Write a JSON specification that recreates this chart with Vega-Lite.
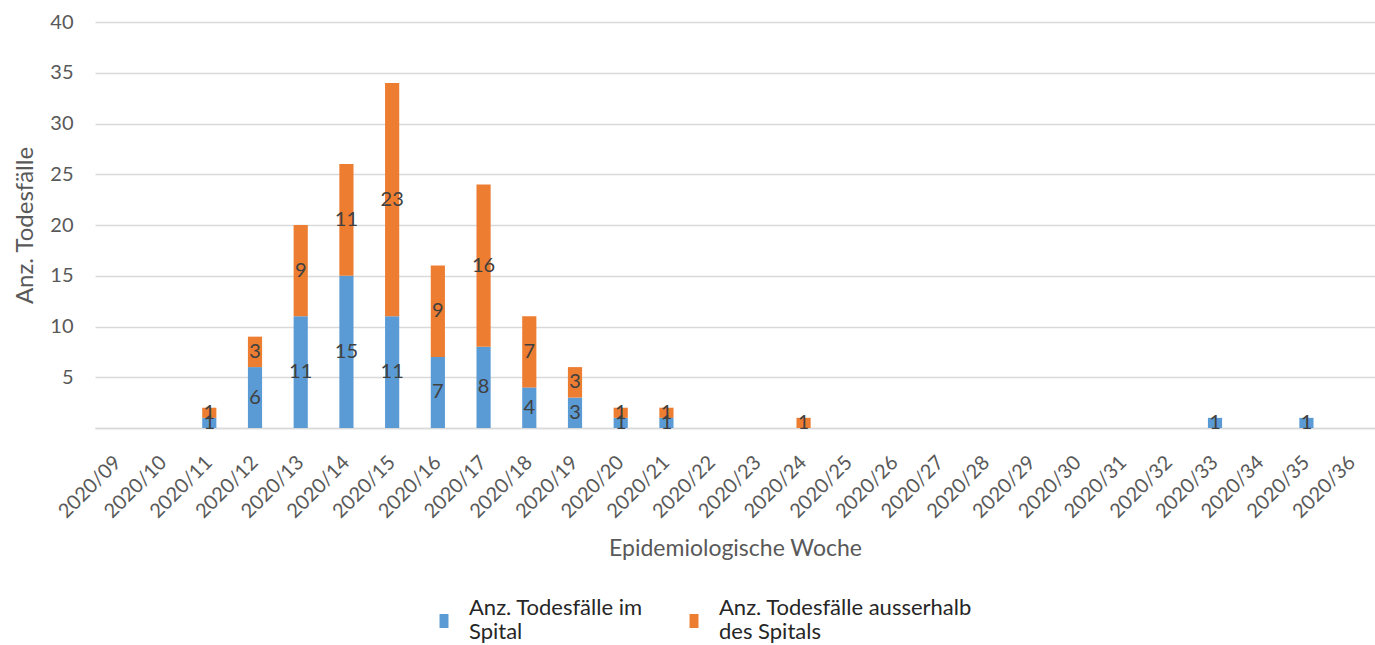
{
  "$schema": "https://vega.github.io/schema/vega-lite/v6.json",
  "width": 1280,
  "height": 406,
  "autosize": "none",
  "padding": {"left": 95, "top": 22, "right": 0, "bottom": 217},
  "background": "white",
  "config": {
    "font": "Lato",
    "view": {"stroke": null}
  },
  "data": {
    "values": [
      {"woche": "2020/09", "serie": "Anz. Todesfälle im Spital", "rang": 1, "anzahl": 0},
      {"woche": "2020/09", "serie": "Anz. Todesfälle ausserhalb des Spitals", "rang": 2, "anzahl": 0},
      {"woche": "2020/10", "serie": "Anz. Todesfälle im Spital", "rang": 1, "anzahl": 0},
      {"woche": "2020/10", "serie": "Anz. Todesfälle ausserhalb des Spitals", "rang": 2, "anzahl": 0},
      {"woche": "2020/11", "serie": "Anz. Todesfälle im Spital", "rang": 1, "anzahl": 1},
      {"woche": "2020/11", "serie": "Anz. Todesfälle ausserhalb des Spitals", "rang": 2, "anzahl": 1},
      {"woche": "2020/12", "serie": "Anz. Todesfälle im Spital", "rang": 1, "anzahl": 6},
      {"woche": "2020/12", "serie": "Anz. Todesfälle ausserhalb des Spitals", "rang": 2, "anzahl": 3},
      {"woche": "2020/13", "serie": "Anz. Todesfälle im Spital", "rang": 1, "anzahl": 11},
      {"woche": "2020/13", "serie": "Anz. Todesfälle ausserhalb des Spitals", "rang": 2, "anzahl": 9},
      {"woche": "2020/14", "serie": "Anz. Todesfälle im Spital", "rang": 1, "anzahl": 15},
      {"woche": "2020/14", "serie": "Anz. Todesfälle ausserhalb des Spitals", "rang": 2, "anzahl": 11},
      {"woche": "2020/15", "serie": "Anz. Todesfälle im Spital", "rang": 1, "anzahl": 11},
      {"woche": "2020/15", "serie": "Anz. Todesfälle ausserhalb des Spitals", "rang": 2, "anzahl": 23},
      {"woche": "2020/16", "serie": "Anz. Todesfälle im Spital", "rang": 1, "anzahl": 7},
      {"woche": "2020/16", "serie": "Anz. Todesfälle ausserhalb des Spitals", "rang": 2, "anzahl": 9},
      {"woche": "2020/17", "serie": "Anz. Todesfälle im Spital", "rang": 1, "anzahl": 8},
      {"woche": "2020/17", "serie": "Anz. Todesfälle ausserhalb des Spitals", "rang": 2, "anzahl": 16},
      {"woche": "2020/18", "serie": "Anz. Todesfälle im Spital", "rang": 1, "anzahl": 4},
      {"woche": "2020/18", "serie": "Anz. Todesfälle ausserhalb des Spitals", "rang": 2, "anzahl": 7},
      {"woche": "2020/19", "serie": "Anz. Todesfälle im Spital", "rang": 1, "anzahl": 3},
      {"woche": "2020/19", "serie": "Anz. Todesfälle ausserhalb des Spitals", "rang": 2, "anzahl": 3},
      {"woche": "2020/20", "serie": "Anz. Todesfälle im Spital", "rang": 1, "anzahl": 1},
      {"woche": "2020/20", "serie": "Anz. Todesfälle ausserhalb des Spitals", "rang": 2, "anzahl": 1},
      {"woche": "2020/21", "serie": "Anz. Todesfälle im Spital", "rang": 1, "anzahl": 1},
      {"woche": "2020/21", "serie": "Anz. Todesfälle ausserhalb des Spitals", "rang": 2, "anzahl": 1},
      {"woche": "2020/22", "serie": "Anz. Todesfälle im Spital", "rang": 1, "anzahl": 0},
      {"woche": "2020/22", "serie": "Anz. Todesfälle ausserhalb des Spitals", "rang": 2, "anzahl": 0},
      {"woche": "2020/23", "serie": "Anz. Todesfälle im Spital", "rang": 1, "anzahl": 0},
      {"woche": "2020/23", "serie": "Anz. Todesfälle ausserhalb des Spitals", "rang": 2, "anzahl": 0},
      {"woche": "2020/24", "serie": "Anz. Todesfälle im Spital", "rang": 1, "anzahl": 0},
      {"woche": "2020/24", "serie": "Anz. Todesfälle ausserhalb des Spitals", "rang": 2, "anzahl": 1},
      {"woche": "2020/25", "serie": "Anz. Todesfälle im Spital", "rang": 1, "anzahl": 0},
      {"woche": "2020/25", "serie": "Anz. Todesfälle ausserhalb des Spitals", "rang": 2, "anzahl": 0},
      {"woche": "2020/26", "serie": "Anz. Todesfälle im Spital", "rang": 1, "anzahl": 0},
      {"woche": "2020/26", "serie": "Anz. Todesfälle ausserhalb des Spitals", "rang": 2, "anzahl": 0},
      {"woche": "2020/27", "serie": "Anz. Todesfälle im Spital", "rang": 1, "anzahl": 0},
      {"woche": "2020/27", "serie": "Anz. Todesfälle ausserhalb des Spitals", "rang": 2, "anzahl": 0},
      {"woche": "2020/28", "serie": "Anz. Todesfälle im Spital", "rang": 1, "anzahl": 0},
      {"woche": "2020/28", "serie": "Anz. Todesfälle ausserhalb des Spitals", "rang": 2, "anzahl": 0},
      {"woche": "2020/29", "serie": "Anz. Todesfälle im Spital", "rang": 1, "anzahl": 0},
      {"woche": "2020/29", "serie": "Anz. Todesfälle ausserhalb des Spitals", "rang": 2, "anzahl": 0},
      {"woche": "2020/30", "serie": "Anz. Todesfälle im Spital", "rang": 1, "anzahl": 0},
      {"woche": "2020/30", "serie": "Anz. Todesfälle ausserhalb des Spitals", "rang": 2, "anzahl": 0},
      {"woche": "2020/31", "serie": "Anz. Todesfälle im Spital", "rang": 1, "anzahl": 0},
      {"woche": "2020/31", "serie": "Anz. Todesfälle ausserhalb des Spitals", "rang": 2, "anzahl": 0},
      {"woche": "2020/32", "serie": "Anz. Todesfälle im Spital", "rang": 1, "anzahl": 0},
      {"woche": "2020/32", "serie": "Anz. Todesfälle ausserhalb des Spitals", "rang": 2, "anzahl": 0},
      {"woche": "2020/33", "serie": "Anz. Todesfälle im Spital", "rang": 1, "anzahl": 1},
      {"woche": "2020/33", "serie": "Anz. Todesfälle ausserhalb des Spitals", "rang": 2, "anzahl": 0},
      {"woche": "2020/34", "serie": "Anz. Todesfälle im Spital", "rang": 1, "anzahl": 0},
      {"woche": "2020/34", "serie": "Anz. Todesfälle ausserhalb des Spitals", "rang": 2, "anzahl": 0},
      {"woche": "2020/35", "serie": "Anz. Todesfälle im Spital", "rang": 1, "anzahl": 1},
      {"woche": "2020/35", "serie": "Anz. Todesfälle ausserhalb des Spitals", "rang": 2, "anzahl": 0},
      {"woche": "2020/36", "serie": "Anz. Todesfälle im Spital", "rang": 1, "anzahl": 0},
      {"woche": "2020/36", "serie": "Anz. Todesfälle ausserhalb des Spitals", "rang": 2, "anzahl": 0}
    ]
  },
  "transform": [
    {"stack": "anzahl", "groupby": ["woche"], "sort": [{"field": "rang", "order": "ascending"}], "as": ["unten", "oben"]},
    {"calculate": "(datum.unten + datum.oben) / 2", "as": "mitte"}
  ],
  "encoding": {
    "x": {
      "field": "woche",
      "type": "ordinal",
      "sort": null,
      "scale": {"paddingInner": 0.69, "paddingOuter": 0.345},
      "axis": {
        "title": "Epidemiologische Woche",
        "titleFontSize": 23,
        "titleFontWeight": "normal",
        "titleColor": "#595959",
        "titlePadding": 16,
        "labelAngle": -45,
        "labelAlign": "right",
        "labelBaseline": "middle",
        "labelFontSize": 20,
        "labelColor": "#595959",
        "labelPadding": 31,
        "labelDx": 0,
        "ticks": false,
        "domainColor": "#d9d9d9",
        "domainWidth": 1.5,
        "grid": false
      }
    }
  },
  "layer": [
    {
      "mark": {"type": "bar"},
      "encoding": {
        "y": {
          "field": "unten",
          "type": "quantitative",
          "scale": {"domain": [0, 40]},
          "axis": {
            "title": "Anz. Todesfälle",
            "titleFontSize": 24,
            "titleFontWeight": "normal",
            "titleColor": "#595959",
            "titlePadding": 12,
            "values": [0, 5, 10, 15, 20, 25, 30, 35, 40],
            "labelExpr": "datum.value == 0 ? '' : datum.label",
            "labelFontSize": 20,
            "labelColor": "#595959",
            "labelPadding": 22,
            "ticks": false,
            "domain": false,
            "gridColor": "#d9d9d9",
            "gridWidth": 1.5
          }
        },
        "y2": {"field": "oben"},
        "color": {
          "field": "serie",
          "type": "nominal",
          "scale": {
            "domain": ["Anz. Todesfälle im Spital", "Anz. Todesfälle ausserhalb des Spitals"],
            "range": ["#5b9bd5", "#ed7d31"]
          },
          "legend": {
            "title": null,
            "orient": "none",
            "direction": "horizontal",
            "legendX": 338,
            "legendY": 575,
            "symbolType": "M-0.64,0.86H0.64V2.86H-0.64Z",
            "symbolSize": 196,
            "symbolStrokeWidth": 0,
            "labelFontSize": 22,
            "labelColor": "#262626",
            "labelOffset": 14,
            "labelLimit": 320,
            "columnPadding": 40,
            "labelExpr": "datum.value == 'Anz. Todesfälle im Spital' ? ['Anz. Todesfälle im', 'Spital'] : ['Anz. Todesfälle ausserhalb', 'des Spitals']"
          }
        }
      }
    },
    {
      "transform": [{"filter": "datum.anzahl > 0"}],
      "mark": {"type": "text", "fontSize": 20, "color": "#404040"},
      "encoding": {
        "y": {"field": "mitte", "type": "quantitative"},
        "text": {"field": "anzahl", "type": "quantitative"}
      }
    }
  ]
}
